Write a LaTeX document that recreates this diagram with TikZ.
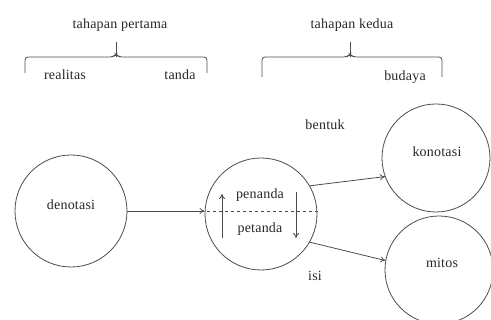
\documentclass[tikz,border=0pt]{standalone}
\usepackage{fontspec}
\setmainfont{Liberation Serif}
\usetikzlibrary{arrows.meta}
\begin{document}
\begin{tikzpicture}[x=1pt,y=-1pt,
  ln/.style={draw=black!70, line width=0.8pt},
  circ/.style={ln, circle, minimum size=#1, inner sep=0pt},
  arr/.style={ln, -{To[length=5pt,width=6pt]}},
  lbl/.style={font=\fontsize{14}{16}\selectfont\addfontfeature{LetterSpace=1.5}, text=black!85, inner sep=0pt},
  brace/.style={ln, rounded corners=3pt}]
\useasboundingbox (0,0) rectangle (491,320);
% braces
\node[lbl] (t1) at (120,25) {tahapan pertama};
\coordinate (b1t) at (116,42);
\coordinate (b1m) at (116,57);
\draw[brace] (25,73) -- (25,57) -- (113,57) -- (116,54) -- (119,57) -- (207,57) -- (207,73);
\draw[ln] (b1t) -- (b1m);
\node[lbl] (re) at (65,75) {realitas};
\node[lbl] (ta) at (180,75) {tanda};

\node[lbl] (t2) at (352,25) {tahapan kedua};
\coordinate (b2t) at (350,42);
\coordinate (b2m) at (350,57);
\draw[brace] (262,77) -- (262,57) -- (347,57) -- (350,54) -- (353,57) -- (442,57) -- (442,77);
\draw[ln] (b2t) -- (b2m);
\node[lbl] (bu) at (405,77) {budaya};

% circles
\node[circ=112pt] (den) at (71,211) {};
\node[lbl] at (71,205) {denotasi};
\node[circ=112pt] (mid) at (261,214) {};
\node[circ=108pt] (kon) at (436,158) {};
\node[lbl] at (437,152) {konotasi};
\node[circ=108pt] (mit) at (439,270) {};
\node[lbl] at (442,263) {mitos};

% middle contents
\node[lbl] (pe) at (260,195) {penanda};
\node[lbl] (pt) at (260,229) {petanda};
\coordinate (dl) at (201,211);
\coordinate (dr) at (318,211);
\draw[ln, dashed] (dl) -- (dr);
\coordinate (u1) at (222,238);
\coordinate (u2) at (222,194);
\coordinate (d1) at (296,192);
\coordinate (d2) at (296,238);
\draw[arr] (u1) -- (u2);
\draw[arr] (d1) -- (d2);

% connectors
\draw[arr] (den.east) -- (mid.west |- den.east);
\draw[arr] (mid.30) -- (kon.200);
\draw[arr] (mid.-30) -- (mit.170);
\node[lbl] (be) at (325,125) {bentuk};
\node[lbl] (is) at (315,276) {isi};
\end{tikzpicture}
\end{document}
